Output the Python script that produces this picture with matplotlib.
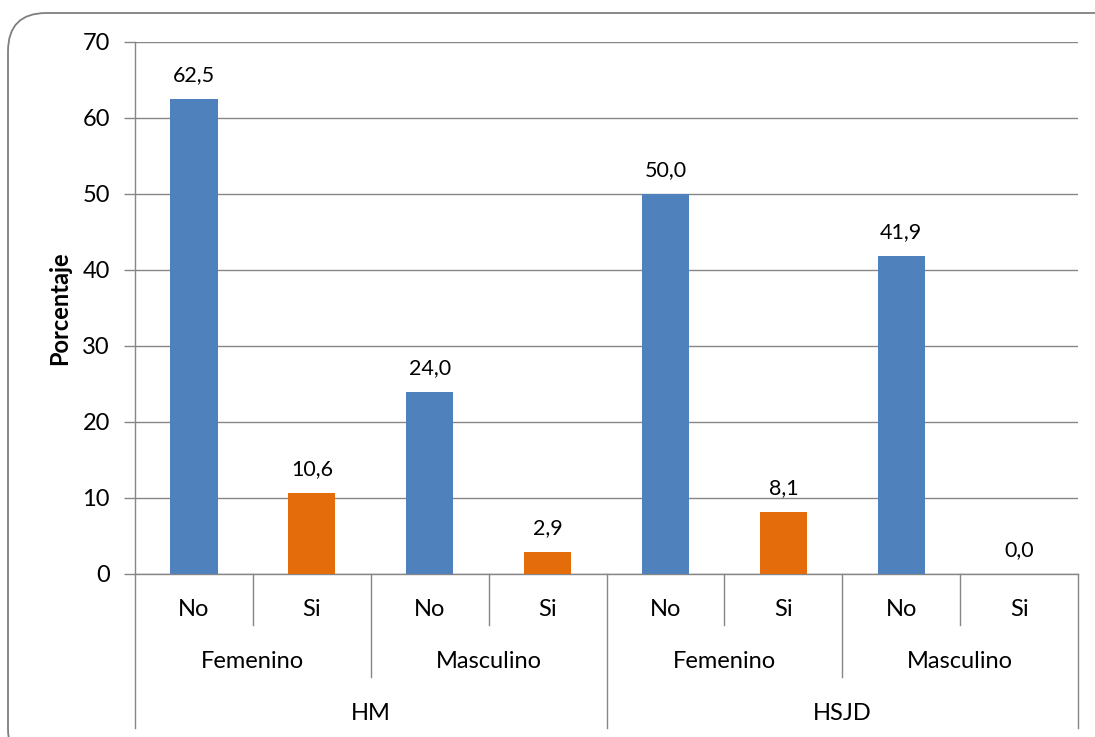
import matplotlib
matplotlib.use("Agg")
import matplotlib.pyplot as plt
from matplotlib.patches import FancyBboxPatch
from matplotlib.lines import Line2D
import matplotlib.transforms as mtransforms

plt.rcParams['font.family'] = ['Lato', 'DejaVu Sans']

# Data
hospitals = ["HM", "HSJD"]
genders = ["Femenino", "Masculino"]
answers = ["No", "Si"]
values = [62.5, 10.6, 24.0, 2.9, 50.0, 8.1, 41.9, 0.0]
value_labels = ["62,5", "10,6", "24,0", "2,9", "50,0", "8,1", "41,9", "0,0"]
y_ticks = [0, 10, 20, 30, 40, 50, 60, 70]

blue = "#4F81BD"
orange = "#E46C0A"
grid_col = "#868686"

W, H = 1095, 737
fig = plt.figure(figsize=(W / 100, H / 100), dpi=100)

# Rounded chart-area frame
frame = FancyBboxPatch((8 / W, -30 / H), (1135 - 8) / W, (H - 13 + 30) / H,
                       boxstyle="round,pad=0,rounding_size=0.035",
                       transform=fig.transFigure, fill=False,
                       edgecolor="#7f7f7f", linewidth=1.3, mutation_aspect=W / H)
fig.add_artist(frame)

left, right, top, bottom = 135, 1078, 42, 574
ax = fig.add_axes([left / W, 1 - bottom / H, (right - left) / W, (bottom - top) / H])

n = len(values)
xs = list(range(n))
colors = [blue if i % 2 == 0 else orange for i in range(n)]
ax.bar(xs, values, width=0.4, color=colors, zorder=3)

for x, v, lab in zip(xs, values, value_labels):
    ax.annotate(lab, (x, v), xytext=(0, 10), textcoords="offset points",
                ha="center", va="bottom", fontsize=15.5, color="black")

ax.set_xlim(-0.5, n - 0.5)
ax.set_ylim(0, 70)
ax.set_yticks(y_ticks)
ax.set_yticklabels([str(t) for t in y_ticks], fontsize=17)
ax.yaxis.grid(True, color=grid_col, linewidth=1.0, zorder=0)
ax.set_xticks([])
for s in ["top", "right"]:
    ax.spines[s].set_visible(False)
for s in ["left", "bottom"]:
    ax.spines[s].set_color(grid_col)
    ax.spines[s].set_linewidth(1.0)
ax.tick_params(axis="y", length=8, color=grid_col, width=1.0, pad=10)
ax.set_ylabel("Porcentaje", fontsize=17, fontweight="bold", labelpad=8)

# Multi-level category axis
ax_h = bottom - top
def ypos(px):
    return (bottom - px) / ax_h

trans = mtransforms.blended_transform_factory(ax.transData, ax.transAxes)

def vline(x, y_px):
    ax.add_line(Line2D([x, x], [0, ypos(y_px)], transform=trans, color=grid_col,
                       linewidth=1.0, clip_on=False))

for k in range(n + 1):
    b = k - 0.5
    if k in (0, n, 4):
        vline(b, 728)
    elif k % 2 == 0:
        vline(b, 677)
    else:
        vline(b, 625)

for i in range(n):
    ax.text(i, ypos(609), answers[i % 2], transform=trans, ha="center", va="center",
            fontsize=17)
for g in range(4):
    ax.text(2 * g + 0.5, ypos(662), genders[g % 2], transform=trans, ha="center",
            va="center", fontsize=17)
for h in range(2):
    ax.text(4 * h + 1.5, ypos(714), hospitals[h], transform=trans, ha="center",
            va="center", fontsize=17)

fig.savefig("out.png", dpi=100)
